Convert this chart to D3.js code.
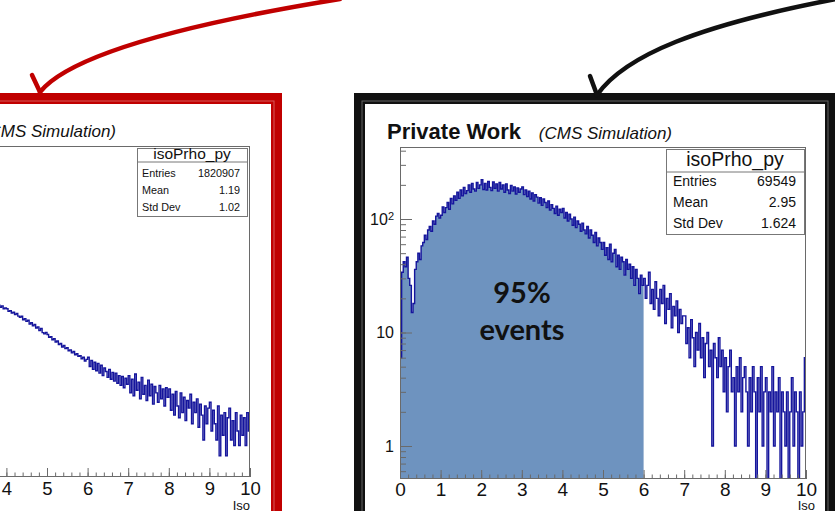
<!DOCTYPE html>
<html>
<head>
<meta charset="utf-8">
<style>
  body { margin: 0; background: #fff; }
  svg { display: block; }
  text { font-family: "Liberation Sans", Arial, sans-serif; fill: #111; }
  .axis path.domain { display: none; }
  .axis line { stroke: #6a6a6a; }
  .big { font-family: Lato, "Open Sans", sans-serif; font-weight: bold; font-size: 29px; }
</style>
<title>isoPrho_py</title>
</head>
<body>
<script src="https://cdn.jsdelivr.net/npm/d3@7"></script>
<script>

// ---- data ----
var binWidth = 0.04;

// right histogram, bins from Iso = 0
var rightStart = 0;
var rightCounts = [
  6, 34, 42, 38, 46, 30, 26, 15, 18, 36, 42, 50, 44, 58, 62, 72, 66, 80, 86, 78, 96, 90, 106, 112, 102,
  108, 128, 114, 126, 140, 122, 152, 136, 160, 146, 172, 152, 180, 160, 190, 168, 178, 200, 172, 206, 184, 176, 210, 186, 200,
  222, 182, 206, 180, 214, 190, 178, 212, 186, 204, 176, 210, 184, 200, 172, 204, 180, 168, 198, 176, 192, 166, 188, 172, 184,
  192, 164, 180, 158, 176, 150, 170, 144, 164, 156, 138, 154, 132, 150, 140, 126, 144, 120, 134, 124, 112, 130, 108, 122, 114,
  124, 102, 114, 96, 110, 100, 88, 104, 84, 96, 90, 78, 92, 80, 74, 86, 68, 80, 72, 62, 76, 58, 68, 62, 54,
  62, 48, 56, 44, 60, 42, 50, 54, 38, 48, 36, 46, 42, 32, 44, 36, 40, 30, 38, 26, 36, 30, 22, 32, 26,
  30, 20, 26, 34, 18, 24, 16, 28, 20, 14, 24, 18, 26, 12, 20, 16, 22, 11, 17, 14, 19, 10, 16, 12, 14,
  14, 8, 11, 6, 13, 9, 5, 10, 7, 12, 6, 9, 4, 8, 10, 5, 7, 1, 8, 6, 4, 9, 5, 7, 3,
  6, 2, 5, 7, 3, 4, 1, 5, 3, 6, 2, 4, 5, 3, 1, 4, 2, 5, 3, 0, 4, 2, 5, 1, 3,
  4, 0, 3, 2, 5, 1, 3, 2, 4, 0, 3, 2, 1, 3, 0, 2, 4, 1, 3, 2, 0, 3, 1, 2, 6
];
var filledUpTo = 6;

// left histogram, only the visible part (Iso >= 3.8)
var leftStart = 3.8;
var leftCounts = [
  596, 562, 584, 540, 552,
  540, 502, 512, 480, 490, 458, 472, 440, 426, 438, 398, 410, 380, 392, 352, 366, 336, 348, 316, 326, 294, 312, 278, 268, 280,
  264, 244, 248, 228, 234, 214, 220, 200, 206, 186, 194, 178, 182, 168, 172, 158, 164, 150, 154, 144, 146, 134, 140, 126, 132,
  140, 108, 128, 100, 122, 96, 118, 90, 112, 84, 104, 94, 80, 100, 76, 92, 72, 90, 68, 84, 64, 82, 60, 78, 66,
  84, 52, 76, 48, 88, 56, 70, 44, 80, 50, 64, 42, 74, 48, 66, 38, 62, 52, 40, 64, 44, 58, 36, 60, 46,
  58, 32, 50, 28, 54, 36, 26, 52, 30, 46, 24, 42, 34, 50, 22, 40, 30, 44, 20, 38, 28, 14, 36, 22, 34,
  40, 18, 32, 22, 14, 36, 9, 28, 16, 30, 9, 26, 34, 14, 24, 12, 30, 18, 12, 28, 16, 26, 12, 30, 18
];

var xTicks = [0, 1, 2, 3, 4, 5, 6, 7, 8, 9, 10];
var yTicksRight = [1, 10, 100];
var statsTitle = "isoPrho_py";
var leftStats = [["Entries", "1820907"], ["Mean", "1.19"], ["Std Dev", "1.02"]];
var rightStats = [["Entries", "69549"], ["Mean", "2.95"], ["Std Dev", "1.624"]];
var xTitle = "Iso";
var bigLabel = ["95%", "events"];

// ---- page ----
var W = 835, H = 511;
var svg = d3.select("body").append("svg").attr("width", W).attr("height", H);
var defs = svg.append("defs");

var lineColor = "#15159c", fillColor = "#6e93bf";

function histLine(x, y, start, counts, bottom) {
  var pts = counts.map(function(c, i) { return [start + i * binWidth, c]; });
  pts.push([start + counts.length * binWidth, counts[counts.length - 1]]);
  return d3.line()
    .x(function(d) { return x(d[0]); })
    .y(function(d) { return d[1] > 0 ? y(d[1]) : bottom; })
    .curve(d3.curveStepAfter)(pts);
}

function histArea(x, y, start, counts, bottom, upTo) {
  var pts = [];
  counts.forEach(function(c, i) {
    if (start + i * binWidth < upTo - 1e-9) pts.push([start + i * binWidth, c]);
  });
  pts.push([upTo, pts[pts.length - 1][1]]);
  return d3.area()
    .x(function(d) { return x(d[0]); })
    .y0(bottom)
    .y1(function(d) { return d[1] > 0 ? y(d[1]) : bottom; })
    .curve(d3.curveStepAfter)(pts);
}

function drawPanel(p) {
  var g = svg.append("g");
  var x = d3.scaleLinear().domain([0, 10]).range([p.left, p.right]);
  var y = d3.scaleLog().domain(p.yDomain).range([p.bottom, p.top]).clamp(true);

  var clipId = "clip" + p.id;
  defs.append("clipPath").attr("id", clipId).append("rect")
    .attr("x", p.left).attr("y", p.top).attr("width", p.right - p.left).attr("height", p.bottom - p.top);
  var plot = g.append("g").attr("clip-path", "url(#" + clipId + ")");

  if (p.fillTo) {
    plot.append("path").attr("d", histArea(x, y, p.start, p.counts, p.bottom, p.fillTo))
      .attr("fill", fillColor).attr("stroke", "none");
  }
  plot.append("path").attr("d", histLine(x, y, p.start, p.counts, p.bottom))
    .attr("fill", "none").attr("stroke", lineColor).attr("stroke-width", 1.4);

  // x axis: minor + major ticks pointing up
  g.append("g").attr("class", "axis").attr("transform", "translate(0," + p.bottom + ")")
    .call(d3.axisBottom(x).tickValues(x.ticks(50)).tickSizeInner(-p.xMinor).tickSizeOuter(0).tickFormat(""));
  var xa = g.append("g").attr("class", "axis").attr("transform", "translate(0," + p.bottom + ")")
    .call(d3.axisBottom(x).tickValues(xTicks).tickSizeInner(-p.xMajor).tickSizeOuter(0).tickPadding(p.xPad));
  xa.selectAll("text").style("font-size", p.xFont + "px");
  // labels that fall outside the visible page are not shown in the picture
  xa.selectAll(".tick").filter(function(d) { return x(d) < 0; }).select("text").remove();

  if (p.yLabels) {
    g.append("g").attr("class", "axis").attr("transform", "translate(" + p.left + ",0)")
      .call(d3.axisLeft(y).tickValues(y.ticks()).tickSizeInner(-6).tickSizeOuter(0).tickFormat(""));
    var ya = g.append("g").attr("class", "axis").attr("transform", "translate(" + p.left + ",0)")
      .call(d3.axisLeft(y).tickValues(p.yLabels).tickSizeInner(-12).tickSizeOuter(0).tickPadding(6)
        .tickFormat(function(d) { return d >= 100 ? "10" : String(d); }));
    ya.selectAll("text").style("font-size", "16px");
    ya.selectAll("text").filter(function(d) { return d >= 100; })
      .append("tspan").attr("dy", "-0.45em").style("font-size", "11px")
      .text(function(d) { return String(Math.round(Math.log10(d))); });
  }

  // frame
  g.append("rect")
    .attr("x", p.left + 0.5).attr("y", p.top + 0.5)
    .attr("width", p.right - p.left - 1).attr("height", p.bottom - p.top - 1)
    .attr("fill", "none").attr("stroke", "#6a6a6a");

  // axis title
  g.append("text").attr("x", p.isoX).attr("y", 509.5).attr("text-anchor", "end")
    .style("font-size", "13px").text(xTitle);

  // plot title: bold part then italic part, the italic one ends at titleEnd
  g.append("text").attr("x", p.titleEnd).attr("y", p.titleY).attr("text-anchor", "end")
    .style("font-size", "17px").style("font-style", "italic").text("(CMS Simulation)");
  if (p.showBold) {
    g.append("text").attr("x", p.titleX).attr("y", p.titleY)
      .style("font-size", "22px").style("font-weight", "bold").text("Private Work");
  }

  // stats box
  var s = p.stats;
  var sb = g.append("g");
  sb.append("rect").attr("x", s.x + 0.5).attr("y", s.y + 0.5).attr("width", s.w).attr("height", s.h)
    .attr("fill", "#fff").attr("stroke", "#777");
  sb.append("line").attr("x1", s.x).attr("x2", s.x + s.w).attr("y1", s.sep + 0.5).attr("y2", s.sep + 0.5)
    .attr("stroke", "#777");
  sb.append("text").attr("x", s.x + s.w / 2).attr("y", s.titleBase).attr("text-anchor", "middle")
    .style("font-size", s.titleFont + "px").text(statsTitle);
  sb.selectAll("text.lab").data(p.statRows).enter().append("text").attr("class", "lab")
    .attr("x", s.x + s.padL).attr("y", function(d, i) { return s.row0 + i * s.rowStep; })
    .style("font-size", s.rowFont + "px").text(function(d) { return d[0]; });
  sb.selectAll("text.val").data(p.statRows).enter().append("text").attr("class", "val")
    .attr("x", s.x + s.w - s.padR).attr("y", function(d, i) { return s.row0 + i * s.rowStep; })
    .attr("text-anchor", "end")
    .style("font-size", s.rowFont + "px").text(function(d) { return d[1]; });
}

// left panel (mostly off the page)
drawPanel({
  id: "L", left: -156, right: 250, top: 146, bottom: 477,
  yDomain: [5, 5e4], start: leftStart, counts: leftCounts,
  xMinor: 4.5, xMajor: 9, xPad: 5, xFont: 18.5, isoX: 250,
  titleEnd: 116, titleY: 137, showBold: false,
  statRows: leftStats,
  stats: { x: 137, y: 148, w: 110, h: 68, sep: 161.5, titleBase: 159, titleFont: 15.5,
           row0: 177, rowStep: 16.8, rowFont: 10.8, padL: 5, padR: 7 }
});

// right panel
drawPanel({
  id: "R", left: 400, right: 806, top: 147, bottom: 479,
  yDomain: [0.512, 431], start: rightStart, counts: rightCounts, fillTo: filledUpTo,
  yLabels: yTicksRight,
  xMinor: 4.5, xMajor: 9, xPad: 4, xFont: 19, isoX: 815,
  titleX: 387, titleEnd: 672, titleY: 139, showBold: true,
  statRows: rightStats,
  stats: { x: 666, y: 149, w: 138, h: 85, sep: 171.5, titleBase: 166, titleFont: 19.5,
           row0: 186, rowStep: 21, rowFont: 14, padL: 7, padR: 8 }
});

svg.append("text").attr("class", "big").attr("x", 522).attr("y", 303).attr("text-anchor", "middle").text(bigLabel[0]);
svg.append("text").attr("class", "big").attr("x", 522).attr("y", 340).attr("text-anchor", "middle").text(bigLabel[1]);

// slide frames (double border look)
function frame(color, x0, y0, x1, y1) {
  svg.append("rect").attr("x", x0 + 5.5).attr("y", y0 + 5.5)
    .attr("width", x1 - x0 - 11).attr("height", y1 - y0 - 11)
    .attr("fill", "none").attr("stroke", color).attr("stroke-width", 11);
  svg.append("rect").attr("x", x0 + 8).attr("y", y0 + 8)
    .attr("width", x1 - x0 - 16).attr("height", y1 - y0 - 16)
    .attr("fill", "none").attr("stroke", "#fff").attr("stroke-opacity", 0.35).attr("stroke-width", 1);
}
frame("#c00000", -60, 93, 282, 700);
frame("#111", 354, 93, 836, 700);

// arrows
function arrow(color, d, barb) {
  svg.append("path").attr("d", d).attr("fill", "none").attr("stroke", color)
    .attr("stroke-width", 4.5).attr("stroke-linecap", "round");
  svg.append("path").attr("d", barb).attr("fill", "none").attr("stroke", color)
    .attr("stroke-width", 4.5).attr("stroke-linecap", "round").attr("stroke-linejoin", "round");
}
arrow("#c00000", "M340,-1 C180,25 70,55 40,92", "M32,75 L40,92");
arrow("#111", "M836,-1 C700,25 625,55 597,95", "M590,76 L597,95");

</script>
</body>
</html>
